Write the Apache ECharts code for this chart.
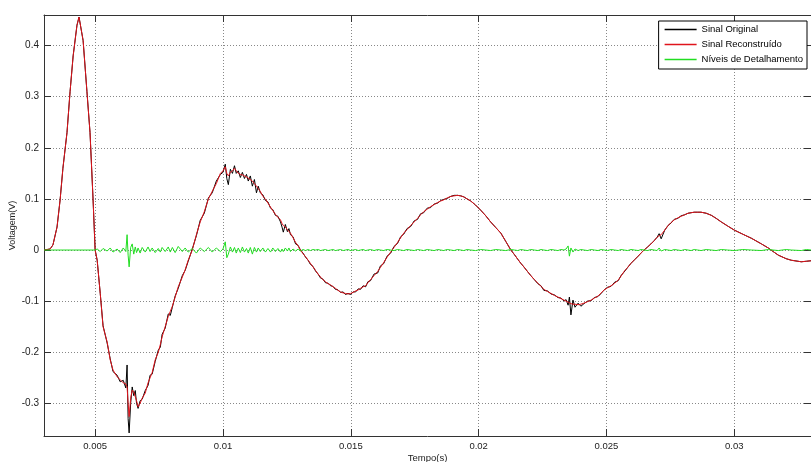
<!DOCTYPE html>
<html>
<head>
<meta charset="utf-8">
<script src="https://cdn.jsdelivr.net/npm/echarts@6/dist/echarts.min.js"></script>
<style>
html,body{margin:0;padding:0;background:#fff;}
#chart{width:811px;height:462px;}
</style>
</head>
<body>
<div id="chart"></div>
<script>
// Tempo (s)
const tempo = [
0.00300,0.00324,0.00335,0.00351,0.00363,0.00374,0.00390,0.00402,0.00414,0.00429,
0.00437,0.00441,0.00453,0.00468,0.00480,0.00492,0.00500,
0.00508,0.00520,0.00531,0.00547,0.00559,0.00570,0.00586,0.00598,0.00610,0.00620,
0.00625,0.00629,0.00633,0.00639,0.00645,0.00651,0.00657,0.00662,0.00668,0.00676,
0.00684,0.00696,0.00707,0.00715,0.00723,0.00735,0.00747,0.00755,0.00762,0.00774,
0.00786,0.00794,0.00802,0.00813,0.00825,0.00841,0.00852,0.00864,0.00880,0.00896,
0.00911,0.00927,0.00943,0.00958,0.00974,0.00990,0.01000,0.01009,0.01015,0.01021,
0.01029,0.01037,0.01045,0.01052,0.01060,0.01068,0.01076,0.01084,0.01092,0.01099,
0.01107,0.01115,0.01123,0.01131,0.01138,0.01146,0.01156,0.01166,0.01176,0.01186,
0.01195,0.01205,0.01215,0.01225,0.01231,0.01236,0.01244,0.01252,0.01258,0.01264,
0.01274,0.01284,0.01294,0.01303,0.01313,0.01323,0.01333,0.01342,0.01352,0.01362,
0.01372,0.01382,0.01391,0.01401,0.01411,0.01421,0.01430,0.01440,0.01450,0.01460,
0.01470,0.01479,0.01489,0.01499,0.01509,0.01519,0.01529,0.01538,0.01548,0.01558,
0.01567,0.01577,0.01591,0.01605,0.01616,0.01628,0.01642,0.01656,0.01669,0.01683,
0.01695,0.01707,0.01720,0.01734,0.01748,0.01761,0.01773,0.01785,0.01799,0.01812,
0.01826,0.01840,0.01852,0.01863,0.01877,0.01891,0.01904,0.01918,0.01930,0.01942,
0.01955,0.01969,0.01988,0.02008,0.02028,0.02047,0.02067,0.02087,0.02106,0.02126,
0.02140,0.02153,0.02165,0.02177,0.02191,0.02204,0.02218,0.02232,0.02244,0.02255,
0.02269,0.02283,0.02297,0.02310,0.02322,0.02334,0.02342,0.02350,0.02355,0.02361,
0.02369,0.02377,0.02389,0.02400,0.02412,0.02426,0.02440,0.02453,0.02467,0.02479,
0.02491,0.02504,0.02518,0.02532,0.02546,0.02557,0.02569,0.02583,0.02596,0.02610,
0.02624,0.02635,0.02647,0.02661,0.02674,0.02686,0.02698,0.02706,0.02714,0.02728,
0.02741,0.02753,0.02765,0.02779,0.02792,0.02806,0.02819,0.02831,0.02843,0.02857,
0.02870,0.02890,0.02910,0.02929,0.02949,0.02974,0.03000,0.03033,0.03067,0.03106,
0.03133,0.03152,0.03172,0.03203,0.03223,0.03262,0.03282,0.03300
];

// Sinal Original (V)
const sinalOriginal = [
0,0.002,0.01,0.045,0.098,0.16,0.23,0.31,0.38,0.44,
0.456,0.454,0.41,0.31,0.23,0.098,0,
-0.02,-0.085,-0.148,-0.182,-0.213,-0.238,-0.245,-0.258,-0.255,-0.27,
-0.225,-0.33,-0.358,-0.30,-0.268,-0.285,-0.275,-0.30,-0.31,-0.295,
-0.292,-0.275,-0.265,-0.245,-0.243,-0.218,-0.196,-0.19,-0.165,-0.153,
-0.125,-0.128,-0.112,-0.09,-0.075,-0.05,-0.04,-0.022,0.002,0.028,
0.058,0.072,0.102,0.112,0.135,0.148,0.152,0.168,0.14,0.128,
0.158,0.15,0.165,0.15,0.155,0.142,0.152,0.14,0.148,0.135,
0.145,0.125,0.138,0.112,0.125,0.112,0.108,0.097,0.094,0.082,
0.079,0.068,0.066,0.055,0.045,0.035,0.05,0.036,0.042,0.03,
0.026,0.012,0.009,0,-0.006,-0.014,-0.02,-0.028,-0.032,-0.041,
-0.047,-0.055,-0.057,-0.064,-0.065,-0.07,-0.071,-0.077,-0.078,-0.083,
-0.082,-0.087,-0.085,-0.087,-0.082,-0.082,-0.076,-0.077,-0.07,-0.072,
-0.062,-0.06,-0.047,-0.045,-0.031,-0.027,-0.012,-0.006,0.007,0.013,
0.026,0.031,0.042,0.046,0.057,0.06,0.071,0.073,0.082,0.083,
0.09,0.092,0.097,0.099,0.101,0.105,0.107,0.107,0.106,0.104,
0.1,0.096,0.088,0.078,0.067,0.055,0.044,0.033,0.017,0,
-0.009,-0.018,-0.026,-0.033,-0.042,-0.05,-0.058,-0.066,-0.07,-0.079,
-0.08,-0.086,-0.088,-0.093,-0.094,-0.1,-0.097,-0.108,-0.092,-0.127,
-0.098,-0.112,-0.104,-0.11,-0.105,-0.1,-0.099,-0.093,-0.091,-0.085,
-0.078,-0.073,-0.071,-0.063,-0.06,-0.05,-0.043,-0.034,-0.026,-0.019,
-0.012,-0.006,0,0.006,0.012,0.018,0.025,0.032,0.022,0.039,
0.048,0.053,0.06,0.062,0.067,0.069,0.072,0.073,0.074,0.074,
0.074,0.072,0.068,0.062,0.055,0.047,0.039,0.031,0.023,0.012,
0.004,-0.003,-0.01,-0.017,-0.02,-0.023,-0.022,-0.021
];

// Sinal Reconstruído (V)
const sinalReconstruido = [
0,0.002,0.01,0.045,0.098,0.16,0.23,0.31,0.38,0.44,
0.456,0.454,0.41,0.31,0.23,0.098,0,
-0.02,-0.085,-0.15,-0.18,-0.215,-0.235,-0.248,-0.254,-0.26,-0.262,
-0.268,-0.30,-0.326,-0.29,-0.274,-0.278,-0.28,-0.295,-0.307,-0.30,
-0.29,-0.28,-0.26,-0.25,-0.24,-0.215,-0.2,-0.185,-0.17,-0.15,
-0.13,-0.12,-0.11,-0.092,-0.072,-0.053,-0.039,-0.02,0,0.03,
0.055,0.075,0.1,0.115,0.13,0.15,0.155,0.163,0.15,0.145,
0.152,0.155,0.16,0.155,0.15,0.148,0.147,0.145,0.143,0.14,
0.138,0.135,0.13,0.125,0.12,0.115,0.105,0.1,0.092,0.084,
0.077,0.07,0.064,0.059,0.052,0.048,0.045,0.04,0.037,0.033,
0.024,0.015,0.008,0,-0.007,-0.013,-0.02,-0.026,-0.033,-0.04,
-0.047,-0.053,-0.058,-0.062,-0.066,-0.068,-0.072,-0.075,-0.079,-0.082,
-0.084,-0.085,-0.086,-0.085,-0.083,-0.08,-0.078,-0.075,-0.072,-0.07,
-0.064,-0.058,-0.05,-0.042,-0.034,-0.025,-0.014,-0.004,0.005,0.015,
0.024,0.033,0.04,0.048,0.055,0.062,0.069,0.075,0.08,0.085,
0.089,0.093,0.096,0.098,0.102,0.105,0.106,0.107,0.106,0.104,
0.1,0.096,0.088,0.078,0.067,0.055,0.044,0.033,0.017,0,
-0.009,-0.018,-0.026,-0.033,-0.042,-0.05,-0.058,-0.065,-0.071,-0.077,
-0.081,-0.085,-0.089,-0.092,-0.095,-0.098,-0.1,-0.102,-0.104,-0.105,
-0.106,-0.106,-0.107,-0.106,-0.104,-0.101,-0.098,-0.094,-0.09,-0.084,
-0.078,-0.074,-0.07,-0.065,-0.059,-0.051,-0.042,-0.034,-0.026,-0.019,
-0.012,-0.006,0,0.006,0.012,0.018,0.025,0.028,0.03,0.039,
0.048,0.054,0.059,0.063,0.066,0.069,0.072,0.073,0.074,0.074,
0.074,0.072,0.068,0.062,0.055,0.047,0.039,0.031,0.023,0.012,
0.004,-0.003,-0.01,-0.017,-0.02,-0.023,-0.022,-0.021
];

// Níveis de Detalhamento (V)
const niveisDetalhamento = [
0,0,0,0,0,0,0,0,0,0,
0,0,0,0,0,0,0,
0.002,-0.003,0.003,-0.002,0.004,-0.004,0.002,-0.005,0.004,-0.003,
0.03,-0.01,-0.033,0.005,0.012,-0.008,0.006,-0.005,0.004,-0.006,
0.005,-0.004,0.006,-0.003,0.004,-0.005,0.003,-0.004,0.005,-0.003,
0.006,-0.004,0.005,-0.005,0.007,-0.003,0.004,-0.004,0.003,-0.006,
0.004,-0.003,0.005,-0.004,0.004,-0.003,0.002,0.016,-0.015,-0.008,
0.006,-0.004,0.005,-0.006,0.004,-0.005,0.006,-0.004,0.003,-0.006,
0.005,-0.008,0.005,-0.004,0.004,-0.003,0.004,-0.004,0.003,-0.004,
0.004,-0.003,0.003,-0.004,0.002,-0.003,0.004,-0.002,0.004,-0.003,
0.002,-0.002,0.002,-0.002,0.001,-0.001,0.001,-0.001,0.001,0,
0.001,-0.001,0,0.001,-0.001,0,0.001,-0.001,0,0.001,
-0.001,0,0.001,-0.001,0,0.001,-0.001,0,0.001,-0.001,
0,0.001,-0.001,0.001,0,-0.001,0.001,0,-0.001,0.001,
0,-0.001,0.001,0,-0.001,0.001,0,-0.001,0.001,0,
-0.001,0.001,0,-0.001,0.001,0,-0.001,0.001,0,-0.001,
0.001,0,-0.001,0.001,0,-0.001,0.001,0,-0.001,0.001,
0,-0.001,0.001,0,-0.001,0.001,0,-0.001,0.001,0,
-0.001,0.001,0,-0.001,0.001,0,0.002,0.008,-0.012,0.004,
-0.004,0.002,-0.001,0.001,0,-0.001,0.001,0,-0.001,0.001,
0,-0.001,0.001,0,-0.001,0.001,0,-0.001,0.001,0,
-0.001,0.001,0,-0.001,0.001,0,-0.001,0.004,-0.002,0.001,
0,-0.001,0.001,0,-0.001,0.001,0,-0.001,0.001,0,
-0.001,0.001,0,-0.001,0.001,0,-0.001,0.001,0,-0.001,
0.001,0,-0.001,0.001,0,-0.001,0.001,0
];

const xTicks = [0.005, 0.01, 0.015, 0.02, 0.025, 0.03];
const yTicks = [-0.3, -0.2, -0.1, 0, 0.1, 0.2, 0.3, 0.4];
const seriesNames = ['Sinal Original', 'Sinal Reconstruído', 'Níveis de Detalhamento'];

const pairs = (arr) => tempo.map((t, i) => [t, arr[i]]);

const FONT = 'Liberation Sans';
const AX = '#333';
const GRID = '#888';

const chart = echarts.init(document.getElementById('chart'), null, {renderer: 'canvas'});
chart.setOption({
  animation: false,
  backgroundColor: '#fff',
  grid: {left: 44, right: 0, top: 15, bottom: 26, containLabel: false, outerBoundsMode: 'none'},
  legend: {
    data: seriesNames,
    orient: 'vertical',
    right: 4,
    top: 21,
    padding: [3, 4, 4, 6],
    itemGap: 4,
    icon: 'rect',
    itemWidth: 32,
    itemHeight: 1.5,
    borderColor: '#000',
    borderWidth: 1,
    backgroundColor: '#fff',
    textStyle: {fontFamily: FONT, fontSize: 9.5, color: '#000', lineHeight: 11}
  },
  xAxis: [{
    type: 'value', min: 0.003, max: 0.033, position: 'bottom',
    name: 'Tempo(s)', nameLocation: 'middle', nameGap: 17, nameMoveOverlap: false,
    nameTextStyle: {fontFamily: FONT, fontSize: 9.5, color: '#222'},
    axisLine: {show: true, onZero: false, lineStyle: {color: AX, width: 1}},
    axisTick: {show: true, inside: true, length: 7, customValues: xTicks, lineStyle: {color: AX}},
    axisLabel: {show: true, customValues: xTicks, margin: 5, fontFamily: FONT, fontSize: 9.5, color: '#222',
      formatter: (v) => String(v)},
    splitLine: {show: true, lineStyle: {color: GRID, type: [1, 2], width: 1}}
  }, {
    type: 'value', min: 0.003, max: 0.033, position: 'top',
    axisLine: {show: true, onZero: false, lineStyle: {color: AX, width: 1}},
    axisTick: {show: true, inside: true, length: 7, customValues: xTicks, lineStyle: {color: AX}},
    axisLabel: {show: false},
    splitLine: {show: false}
  }],
  yAxis: [{
    type: 'value', min: -0.364, max: 0.46, position: 'left',
    name: 'Voltagem(V)', nameLocation: 'middle', nameGap: 27, nameRotate: 90, nameMoveOverlap: false,
    nameTextStyle: {fontFamily: FONT, fontSize: 9, color: '#222'},
    axisLine: {show: true, onZero: false, lineStyle: {color: AX, width: 1}},
    axisTick: {show: true, inside: true, length: 7, customValues: yTicks, lineStyle: {color: AX}},
    axisLabel: {show: true, customValues: yTicks, margin: 5, fontFamily: FONT, fontSize: 10, color: '#222',
      formatter: (v) => String(v)},
    splitLine: {show: true, lineStyle: {color: GRID, type: [1, 2], width: 1}}
  }, {
    type: 'value', min: -0.364, max: 0.46, position: 'right',
    axisLine: {show: true, onZero: false, lineStyle: {color: AX, width: 1}},
    axisTick: {show: true, inside: true, length: 7, customValues: yTicks, lineStyle: {color: AX}},
    axisLabel: {show: false},
    splitLine: {show: false}
  }],
  series: [
    {name: seriesNames[0], type: 'line', xAxisIndex: 0, yAxisIndex: 0, data: pairs(sinalOriginal),
     symbol: 'none', lineStyle: {color: '#000', width: 1}, itemStyle: {color: '#000'}},
    {name: seriesNames[1], type: 'line', xAxisIndex: 0, yAxisIndex: 0, data: pairs(sinalReconstruido),
     symbol: 'none', lineStyle: {color: '#e0141c', width: 1}, itemStyle: {color: '#e0141c'}},
    {name: seriesNames[2], type: 'line', xAxisIndex: 0, yAxisIndex: 0, data: pairs(niveisDetalhamento),
     symbol: 'none', lineStyle: {color: '#22dd22', width: 1}, itemStyle: {color: '#22dd22'}}
  ]
});
</script>
</body>
</html>
